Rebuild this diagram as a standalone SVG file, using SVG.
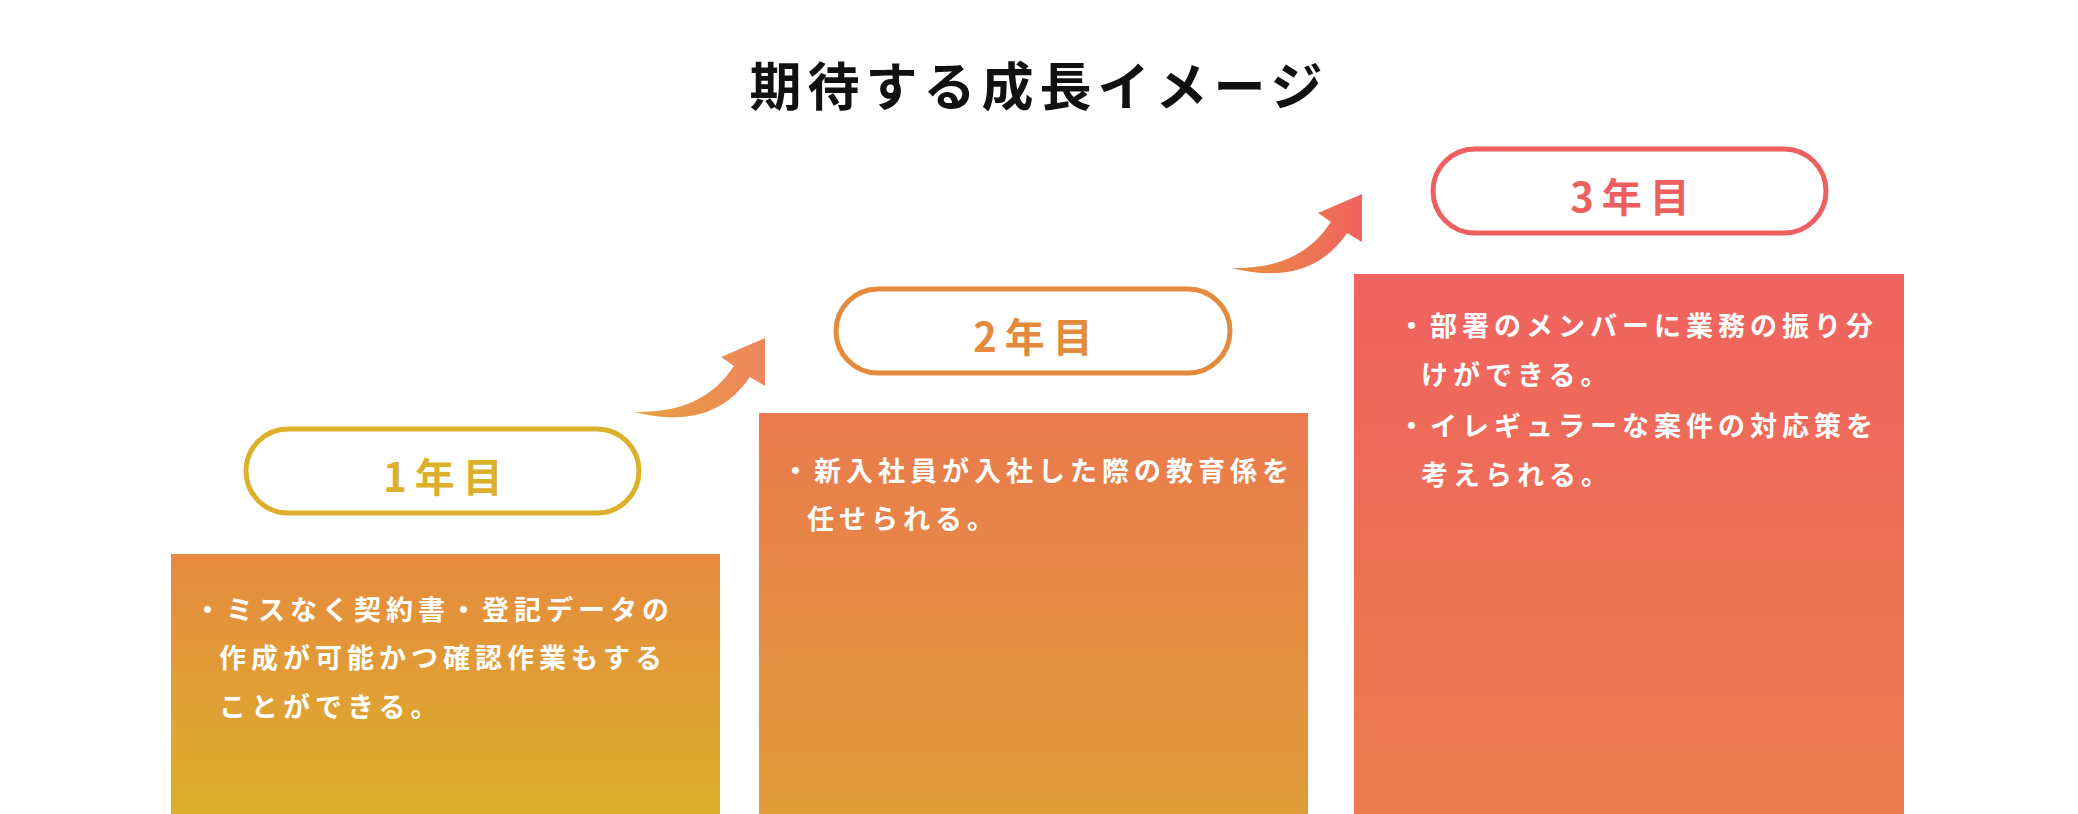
<svg xmlns="http://www.w3.org/2000/svg" width="2078" height="814" viewBox="0 0 2078 814">
<defs>
<style>
.t{font-family:"Noto Sans CJK JP","Noto Sans",sans-serif;font-weight:700}
.body{fill:#fff;font-size:27px;letter-spacing:5px}
.pill{fill:#fff;stroke-width:5}
.yr{font-size:40px;letter-spacing:8px;text-anchor:middle}
</style>
<linearGradient id="g1" x1="0" y1="0" x2="0" y2="1"><stop offset="0" stop-color="#E68A40"/><stop offset="1" stop-color="#DCB02A"/></linearGradient>
<linearGradient id="g2" x1="0" y1="0" x2="0" y2="1"><stop offset="0" stop-color="#EA7A4E"/><stop offset="1" stop-color="#E09C38"/></linearGradient>
<linearGradient id="g3" x1="0" y1="0" x2="0" y2="1"><stop offset="0" stop-color="#F06360"/><stop offset="1" stop-color="#EB7C4C"/></linearGradient>
<linearGradient id="a1" x1="0" y1="0" x2="1" y2="0"><stop offset="0" stop-color="#E6A03C"/><stop offset="1" stop-color="#EF865E"/></linearGradient>
<linearGradient id="a2" x1="0" y1="0" x2="1" y2="0"><stop offset="0" stop-color="#E8903E"/><stop offset="1" stop-color="#F06360"/></linearGradient>
<path id="arr" d="M1231,268 Q1300,270 1331,222 L1318,213 L1362,194 L1362,242 L1347,233 Q1310,288 1231,268 Z"/>
</defs>
<rect width="2078" height="814" fill="#fff"/>
<text class="t" x="1039" y="106" font-size="52" text-anchor="middle" fill="#111" letter-spacing="6">期待する成長イメージ</text>
<g id="connectors">
<use href="#arr" fill="url(#a1)" transform="translate(-597,144)"/>
<use href="#arr" fill="url(#a2)"/>
</g>
<g id="year1">
<rect x="171" y="554" width="549" height="260" fill="url(#g1)"/>
<rect class="pill" x="246" y="429" width="393" height="84" rx="42" stroke="#DCB02A"/>
<text class="t yr" x="447" y="492" fill="#DCB02A">1年目</text>
<text class="t body" x="194" y="620">・ミスなく契約書・登記データの</text>
<text class="t body" x="219" y="668">作成が可能かつ確認作業もする</text>
<text class="t body" x="219" y="717">ことができる。</text>
</g>
<g id="year2">
<rect x="759" y="413" width="549" height="401" fill="url(#g2)"/>
<rect class="pill" x="836" y="289" width="394" height="84" rx="42" stroke="#E38A3C"/>
<text class="t yr" x="1037" y="352" fill="#E38A3C">2年目</text>
<text class="t body" x="782" y="481">・新入社員が入社した際の教育係を</text>
<text class="t body" x="807" y="529">任せられる。</text>
</g>
<g id="year3">
<rect x="1354" y="274" width="550" height="540" fill="url(#g3)"/>
<rect class="pill" x="1433" y="149" width="393" height="84" rx="42" stroke="#EE6060"/>
<text class="t yr" x="1634" y="212" fill="#EE6060">3年目</text>
<text class="t body" x="1398" y="336">・部署のメンバーに業務の振り分</text>
<text class="t body" x="1421" y="385">けができる。</text>
<text class="t body" x="1398" y="436">・イレギュラーな案件の対応策を</text>
<text class="t body" x="1421" y="485">考えられる。</text>
</g>
</svg>
